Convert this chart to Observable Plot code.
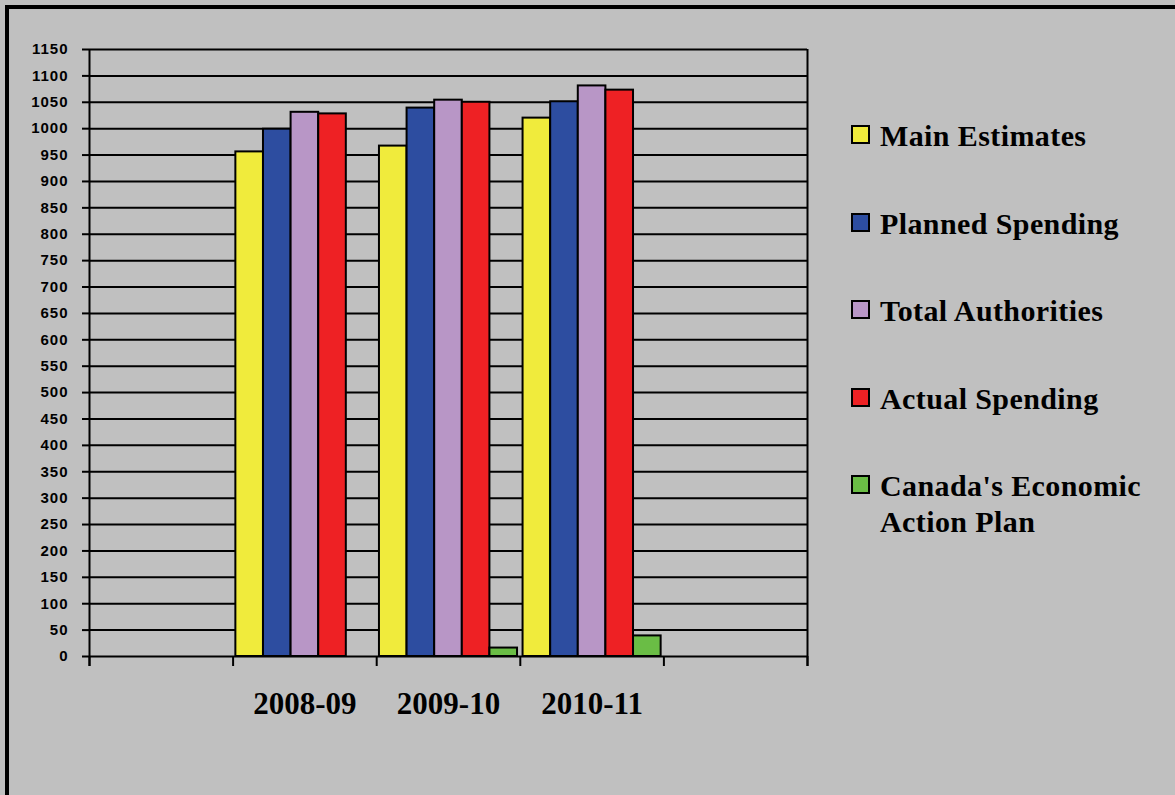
<!DOCTYPE html>
<html>
<head>
<meta charset="utf-8">
<script src="https://cdn.jsdelivr.net/npm/d3@7"></script>
<script src="https://cdn.jsdelivr.net/npm/@observablehq/plot@0.6"></script>
<style>
  html, body { margin: 0; padding: 0; background: #c0c0c0; overflow: hidden; width: 1175px; height: 795px; }
  #border { position: absolute; left: 5px; top: 5px; width: 1300px; height: 900px; border-left: 4px solid #000; border-top: 4px solid #000; }
  #chart { position: absolute; left: 0; top: 0; }
  #chart svg { background: transparent; overflow: visible; }
  #chart svg g[aria-label="y-axis tick label"] text { letter-spacing: 1px; }
  #legend { position: absolute; left: 0; top: 0; font-family: "Liberation Serif", "Times New Roman", serif; font-weight: bold; font-size: 30px; color: #000; letter-spacing: 0.4px; }
  .item { position: absolute; left: 851px; width: 320px; height: 80px; }
  .sw { position: absolute; left: 0; top: 7px; width: 15px; height: 15px; border: 2px solid #000; }
  .lab { position: absolute; left: 29px; top: 0; width: 285px; line-height: 36px; white-space: normal; }
</style>
</head>
<body>
<div id="border"></div>
<div id="chart"></div>
<div id="legend"></div>
<script>
// Category slots along the x axis (first and last are empty)
const slots = ["", "2008-09", "2009-10", "2010-11", ""];
const years = ["2008-09", "2009-10", "2010-11"];
const series = ["Main Estimates", "Planned Spending", "Total Authorities", "Actual Spending", "Canada's Economic Action Plan"];
const colors = ["#f0eb3c", "#2d4da0", "#b896c6", "#ee2124", "#6abd45"];

// Values per year (2008-09, 2009-10, 2010-11)
const mainEstimates      = [956, 967, 1020];
const plannedSpending    = [999, 1039, 1051];
const totalAuthorities   = [1031, 1054, 1081];
const actualSpending     = [1028, 1050, 1073];
const economicActionPlan = [0, 16, 39];

const yTicks = d3.range(0, 1151, 50);

const seriesValues = [mainEstimates, plannedSpending, totalAuthorities, actualSpending, economicActionPlan];
const rows = years.flatMap((yr, i) => seriesValues.map((vals, j) => ({
  year: yr, slot: slots.indexOf(yr), j, series: series[j], value: vals[i]
})));
const n = series.length;
const pad = 0.1;

const chart = Plot.plot({
  width: 830,
  height: 760,
  marginLeft: 89,
  marginRight: 23,
  marginTop: 49,
  marginBottom: 104,
  style: { background: "transparent", overflow: "visible" },
  x: { domain: [0, slots.length], axis: null },
  y: { domain: [0, 1150], axis: null },
  color: { domain: series, range: colors },
  marks: [
    Plot.ruleY(yTicks, { stroke: "#000", strokeWidth: 2 }),
    Plot.rectY(rows, {
      x1: d => d.slot + (pad + d.j) / (n + 2 * pad),
      x2: d => d.slot + (pad + d.j + 1) / (n + 2 * pad),
      y1: 0,
      y2: "value",
      fill: "series",
      stroke: "#000",
      strokeWidth: 2
    }),
    Plot.ruleX([0, slots.length], { y1: -19, y2: 1150, stroke: "#000", strokeWidth: 2 }),
    Plot.axisX({ ticks: d3.range(0, slots.length + 1), tickSize: 10, tickFormat: () => "", strokeWidth: 2, label: null }),
    Plot.axisX({
      ticks: years.map(y => slots.indexOf(y) + 0.5),
      tickSize: 0,
      tickPadding: 35,
      tickFormat: v => slots[Math.floor(v)],
      fontSize: 31,
      fontFamily: "Liberation Serif",
      fontWeight: "bold",
      fill: "#000",
      label: null
    }),
    Plot.axisY({
      ticks: yTicks,
      tickSize: 7,
      tickPadding: 14,
      tickFormat: d => String(d),
      strokeWidth: 2,
      fontSize: 15,
      fontFamily: "Liberation Sans",
      fontWeight: "bold",
      fill: "#000",
      label: null
    })
  ]
});
document.getElementById("chart").appendChild(chart);

// Legend
const legend = document.getElementById("legend");
series.forEach((s, i) => {
  const item = document.createElement("div");
  item.className = "item";
  item.style.top = (118 + i * 87.5) + "px";
  const sw = document.createElement("div");
  sw.className = "sw";
  sw.style.background = colors[i];
  const lab = document.createElement("div");
  lab.className = "lab";
  lab.textContent = s;
  item.appendChild(sw);
  item.appendChild(lab);
  legend.appendChild(item);
});
</script>
</body>
</html>
